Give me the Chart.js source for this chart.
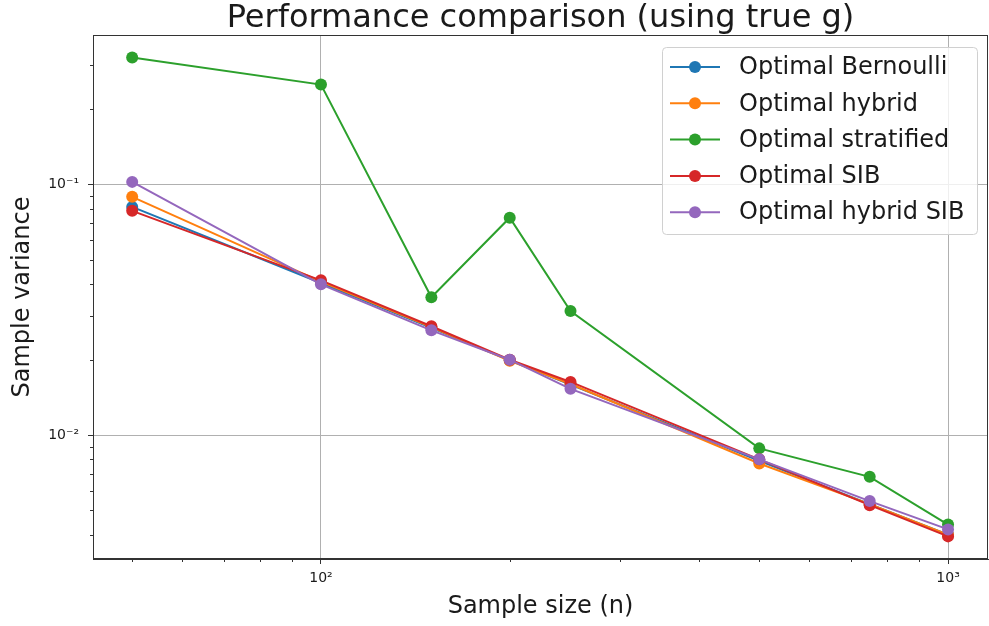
<!DOCTYPE html>
<html>
<head>
<meta charset="utf-8">
<script src="https://cdn.jsdelivr.net/npm/chart.js@4"></script>
<style>
  html, body { margin: 0; padding: 0; background: #fff; }
  #wrap { width: 989px; height: 626px; }
</style>
</head>
<body>
<div id="wrap"><canvas id="mychart" width="989" height="626"></canvas></div>
<script>
// sample sizes (x) and sample variances per method
const sampleSizes = [50, 100, 150, 200, 250, 500, 750, 1000];
const bernoulli   = [0.0815, 0.0405, 0.0268, 0.0199, 0.0159, 0.0079, 0.0053, 0.0040];
const hybrid      = [0.0894, 0.0410, 0.0270, 0.0198, 0.0160, 0.0077, 0.0053, 0.0040];
const stratified  = [0.322, 0.251, 0.0355, 0.0738, 0.0313, 0.00885, 0.00681, 0.00439];
const sib         = [0.0786, 0.0415, 0.0272, 0.0200, 0.0163, 0.0080, 0.00525, 0.00394];
const hybridSib   = [0.1026, 0.0400, 0.0262, 0.0200, 0.0153, 0.0080, 0.00545, 0.0042];

const seriesNames = ["Optimal Bernoulli", "Optimal hybrid", "Optimal stratified", "Optimal SIB", "Optimal hybrid SIB"];
const seriesValues = [bernoulli, hybrid, stratified, sib, hybridSib];
const colors = ["#1f77b4", "#ff7f0e", "#2ca02c", "#d62728", "#9467bd"];

// ticks
const xMajorTicks = [100, 1000];
const xTickLabels = ["10²", "10³"];
const xMinorTicks = [50, 60, 70, 80, 90, 200, 300, 400, 500, 600, 700, 800, 900];
const yMajorTicks = [0.01, 0.1];
const yTickLabels = ["10⁻²", "10⁻¹"];
const yMinorTicks = [0.004, 0.005, 0.006, 0.007, 0.008, 0.009, 0.02, 0.03, 0.04, 0.05, 0.06, 0.07, 0.08, 0.09, 0.2, 0.3];

const FONT = "'DejaVu Sans', sans-serif";
const TEXT = "#1a1a1a";

const datasets = seriesValues.map((vals, i) => ({
  label: seriesNames[i],
  data: vals.map((v, j) => ({x: sampleSizes[j], y: v})),
  borderColor: colors[i],
  backgroundColor: colors[i],
  pointBackgroundColor: colors[i],
  pointBorderWidth: 0,
  pointRadius: 6,
  borderWidth: 2,
  tension: 0,
  order: seriesValues.length - i
}));

function majorIndex(list, v) {
  return list.findIndex(m => Math.abs(m - v) / m < 1e-6);
}

// title centred on the plot area, like matplotlib
const titlePlugin = {
  id: "axTitle",
  afterDraw(chart) {
    const {ctx, chartArea} = chart;
    ctx.save();
    ctx.fillStyle = TEXT;
    ctx.font = "32px " + FONT;
    ctx.textAlign = "center";
    ctx.textBaseline = "alphabetic";
    ctx.fillText("Performance comparison (using true g)", (chartArea.left + chartArea.right) / 2, 27);
    ctx.restore();
  }
};

// top/right spines and short minor ticks
const framePlugin = {
  id: "frame",
  afterDraw(chart) {
    const {ctx, chartArea: a, scales} = chart;
    ctx.save();
    ctx.strokeStyle = "#333";
    ctx.lineWidth = 1;
    ctx.strokeRect(a.left + 0.5, a.top + 0.5, a.right - a.left - 1, a.bottom - a.top - 1);
    ctx.beginPath();
    xMinorTicks.forEach(v => {
      const px = Math.round(scales.x.getPixelForValue(v)) + 0.5;
      ctx.moveTo(px, a.bottom);
      ctx.lineTo(px, a.bottom + 3);
    });
    yMinorTicks.forEach(v => {
      const py = Math.round(scales.y.getPixelForValue(v)) + 0.5;
      ctx.moveTo(a.left, py);
      ctx.lineTo(a.left - 3, py);
    });
    ctx.stroke();
    ctx.restore();
  }
};

// legend box inside the plot, upper right
const legendPlugin = {
  id: "innerLegend",
  afterDatasetsDraw(chart) {
    const {ctx, chartArea: a} = chart;
    const boxW = 315, boxH = 187, rowH = 36.3;
    const bx = a.right - 11 - boxW, by = a.top + 12;
    ctx.save();
    ctx.beginPath();
    ctx.roundRect(bx + 0.5, by + 0.5, boxW, boxH, 4);
    ctx.fillStyle = "rgba(255,255,255,0.8)";
    ctx.fill();
    ctx.strokeStyle = "#d0d0d0";
    ctx.lineWidth = 1;
    ctx.stroke();
    ctx.font = "24px " + FONT;
    ctx.textBaseline = "middle";
    ctx.textAlign = "left";
    chart.data.datasets.forEach((ds, i) => {
      const cy = by + 20 + i * rowH;
      ctx.strokeStyle = ds.borderColor;
      ctx.lineWidth = 2;
      ctx.beginPath();
      ctx.moveTo(bx + 8, cy);
      ctx.lineTo(bx + 58, cy);
      ctx.stroke();
      ctx.fillStyle = ds.borderColor;
      ctx.beginPath();
      ctx.arc(bx + 33, cy, 6, 0, Math.PI * 2);
      ctx.fill();
      ctx.fillStyle = TEXT;
      ctx.fillText(ds.label, bx + 77, cy + 1);
    });
    ctx.restore();
  }
};

new Chart(document.getElementById("mychart"), {
  type: "line",
  data: {datasets: datasets},
  options: {
    responsive: false,
    animation: false,
    devicePixelRatio: 1,
    layout: {autoPadding: false, padding: {top: 35, right: 1, left: 0, bottom: 0}},
    plugins: {legend: {display: false}, tooltip: {enabled: false}},
    scales: {
      x: {
        type: "logarithmic",
        min: 43.3,
        max: 1158,
        afterBuildTicks: scale => {
          scale.ticks = xMinorTicks.concat(xMajorTicks).sort((p, q) => p - q).map(v => ({value: v}));
        },
        afterFit: scale => {
          scale.height = 67;
          scale.paddingLeft = 0;
          scale.paddingRight = 0;
        },
        ticks: {
          autoSkip: false,
          maxRotation: 0,
          padding: 6,
          color: TEXT,
          font: {family: FONT, size: 14},
          callback: v => {
            const k = majorIndex(xMajorTicks, v);
            return k >= 0 ? xTickLabels[k] : "";
          }
        },
        grid: {
          color: c => (c.tick && majorIndex(xMajorTicks, c.tick.value) >= 0) ? "#b0b0b0" : "transparent",
          tickColor: c => (c.tick && majorIndex(xMajorTicks, c.tick.value) >= 0) ? "#333" : "transparent",
          tickLength: 5,
          lineWidth: 1
        },
        border: {color: "#333", width: 1},
        title: {display: true, text: "Sample size (n)", color: TEXT, font: {family: FONT, size: 24}, padding: {top: 0, bottom: 5}}
      },
      y: {
        type: "logarithmic",
        min: 0.0032,
        max: 0.396,
        afterBuildTicks: scale => {
          scale.ticks = yMinorTicks.concat(yMajorTicks).sort((p, q) => p - q).map(v => ({value: v}));
        },
        afterFit: scale => {
          scale.width = 93;
          scale.paddingTop = 0;
          scale.paddingBottom = 0;
        },
        ticks: {
          autoSkip: false,
          padding: 9,
          color: TEXT,
          font: {family: FONT, size: 14},
          callback: v => {
            const k = majorIndex(yMajorTicks, v);
            return k >= 0 ? yTickLabels[k] : "";
          }
        },
        grid: {
          color: c => (c.tick && majorIndex(yMajorTicks, c.tick.value) >= 0) ? "#b0b0b0" : "transparent",
          tickColor: c => (c.tick && majorIndex(yMajorTicks, c.tick.value) >= 0) ? "#333" : "transparent",
          tickLength: 5,
          lineWidth: 1
        },
        border: {color: "#333", width: 1},
        title: {display: true, text: "Sample variance", color: TEXT, font: {family: FONT, size: 24}, padding: {top: 8, bottom: 0}}
      }
    }
  },
  plugins: [titlePlugin, framePlugin, legendPlugin]
});
</script>
</body>
</html>
